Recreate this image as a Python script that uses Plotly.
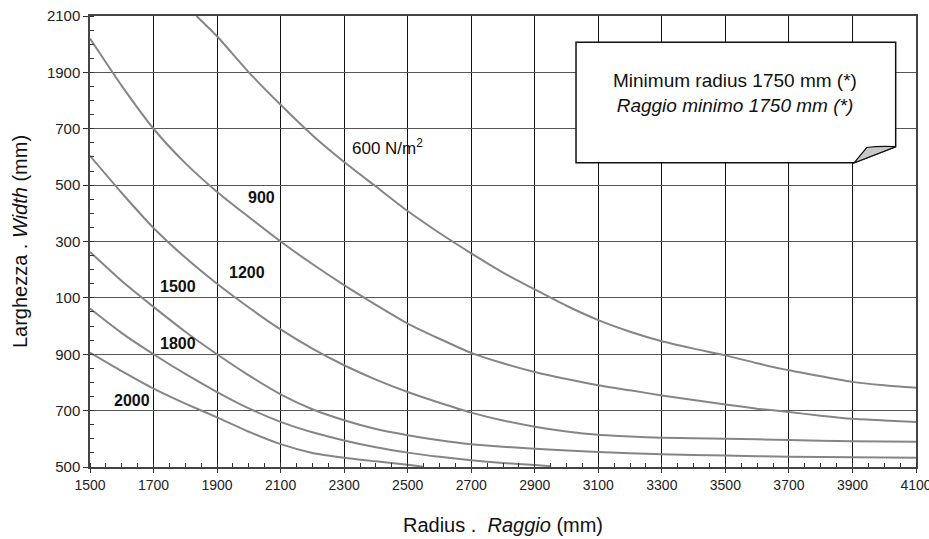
import plotly.graph_objects as go

# ---- data ----
x_600 = [1835, 1900, 2000, 2100, 2200, 2300, 2400, 2500, 2600, 2700, 2800, 2900, 3000,
         3100, 3200, 3300, 3400, 3500, 3600, 3700, 3800, 3900, 4000, 4100]
y_600 = [2100, 2028, 1900, 1785, 1677, 1582, 1495, 1408, 1330, 1258, 1190, 1130, 1072,
         1021, 980, 946, 920, 896, 868, 843, 822, 802, 790, 781]

x_900 = [1500, 1600, 1700, 1800, 1900, 2000, 2100, 2200, 2300, 2400, 2500, 2600, 2700,
         2800, 2900, 3000, 3100, 3200, 3300, 3400, 3500, 3600, 3700, 3800, 3900, 4000, 4100]
y_900 = [2020, 1852, 1700, 1578, 1476, 1387, 1300, 1220, 1145, 1075, 1009, 955, 905,
         868, 837, 812, 790, 772, 754, 738, 722, 707, 695, 682, 671, 665, 660]

x_1200 = [1500, 1600, 1700, 1800, 1900, 2000, 2100, 2200, 2300, 2400, 2500, 2600, 2700,
          2800, 2900, 3000, 3100, 3200, 3300, 3500, 3700, 3900, 4100]
y_1200 = [1604, 1472, 1348, 1243, 1150, 1066, 988, 920, 861, 810, 766, 728, 693,
          665, 643, 626, 614, 608, 604, 600, 596, 591, 590]

x_1500 = [1500, 1600, 1700, 1800, 1900, 2000, 2100, 2200, 2300, 2400, 2500, 2600, 2700,
          2800, 2900, 3100, 3300, 3500, 3700, 3900, 4100]
y_1500 = [1263, 1160, 1068, 980, 900, 825, 758, 705, 666, 635, 613, 595, 581,
          572, 565, 553, 545, 541, 536, 535, 533]

x_1800 = [1500, 1600, 1700, 1800, 1900, 2000, 2100, 2200, 2300, 2400, 2500, 2600, 2700,
          2800, 2900, 2950]
y_1800 = [1062, 975, 900, 830, 766, 708, 660, 623, 594, 570, 551, 536, 524,
          514, 507, 503]

x_2000 = [1500, 1600, 1700, 1800, 1900, 2000, 2100, 2200, 2300, 2400, 2500, 2550]
y_2000 = [906, 840, 778, 725, 676, 625, 581, 550, 533, 520, 508, 501]

series_names = ["600 N/m2", "900", "1200", "1500", "1800", "2000"]
series_x = [x_600, x_900, x_1200, x_1500, x_1800, x_2000]
series_y = [y_600, y_900, y_1200, y_1500, y_1800, y_2000]

label_texts = ["600 N/m<sup>2</sup>", "<b>900</b>", "<b>1200</b>", "<b>1500</b>", "<b>1800</b>", "<b>2000</b>"]
label_x = [2317, 1992, 1932, 1714, 1714, 1569]
label_y = [1634, 1456, 1190, 1141, 938, 736]

x_tickvals = [1500, 1700, 1900, 2100, 2300, 2500, 2700, 2900, 3100, 3300, 3500, 3700, 3900, 4100]
y_tickvals = [500, 700, 900, 1100, 1300, 1500, 1700, 1900, 2100]
y_ticktext = ["500", "700", "900", "100", "300", "500", "700", "1900", "2100"]

FONT = "Liberation Sans, Arial, sans-serif"

fig = go.Figure()
for name, xs, ys in zip(series_names, series_x, series_y):
    fig.add_trace(go.Scatter(x=xs, y=ys, mode="lines", name=name,
                             line=dict(color="#858585", width=2, shape="spline", smoothing=0.6),
                             showlegend=False, hoverinfo="skip"))

for t, lx, ly in zip(label_texts, label_x, label_y):
    fig.add_annotation(x=lx, y=ly, text=t, showarrow=False, xanchor="left", yanchor="middle",
                       font=dict(family=FONT, size=17 if "N/m" in t else 16, color="#111"))

# callout box with folded corner (paper coordinates)
fig.add_shape(type="path", xref="paper", yref="paper",
              path="M 0.5884,0.9417 L 0.9754,0.9417 L 0.9754,0.7102 L 0.9253,0.6747 L 0.5884,0.6747 Z",
              fillcolor="white", line=dict(color="#111", width=1.5), layer="above")
fig.add_shape(type="path", xref="paper", yref="paper",
              path="M 0.9253,0.6747 L 0.9403,0.7084 Q 0.955,0.712 0.9754,0.7102 Z",
              fillcolor="#c8c8c8", line=dict(color="#111", width=1.2), layer="above")
fig.add_annotation(xref="paper", yref="paper", x=0.7804, y=0.830,
                   text="Minimum radius 1750 mm (*)<br><i>Raggio minimo 1750 mm (*)</i>",
                   showarrow=False, xanchor="center", yanchor="middle", align="center",
                   font=dict(family=FONT, size=19, color="#111"))

fig.update_layout(
    template="none",
    width=929, height=539,
    margin=dict(l=90, r=13, t=16, b=72, pad=0),
    paper_bgcolor="white", plot_bgcolor="white",
    font=dict(family=FONT, color="#222"),
    xaxis=dict(range=[1500, 4100], tickmode="array", tickvals=x_tickvals,
               automargin=False, ticklabeloverflow="allow",
               showgrid=True, gridcolor="#111", gridwidth=1,
               showline=True, linecolor="#444", linewidth=1.5, mirror=True,
               ticks="outside", ticklen=4, tickcolor="#333",
               minor=dict(tickmode="linear", tick0=1500, dtick=50, ticks="inside", ticklen=4,
                          tickcolor="#333", showgrid=False),
               tickfont=dict(family=FONT, size=14, color="#222"),
               zeroline=False,
               title=dict(text="Radius .\u00a0\u00a0<i>Raggio</i> (mm)", standoff=26,
                          font=dict(family=FONT, size=20, color="#111"))),
    yaxis=dict(range=[500, 2100], tickmode="array", tickvals=y_tickvals, ticktext=y_ticktext,
               automargin=False,
               showgrid=True, gridcolor="#555", gridwidth=1,
               showline=True, linecolor="#444", linewidth=1.5, mirror=True,
               ticks="outside", ticklen=5, tickcolor="#333",
               minor=dict(tickmode="linear", tick0=500, dtick=50, ticks="inside", ticklen=4,
                          tickcolor="#333", showgrid=False),
               tickfont=dict(family=FONT, size=15, color="#222"),
               zeroline=False,
               title=dict(text="Larghezza .\u00a0<i>Width</i> (mm)", standoff=14,
                          font=dict(family=FONT, size=20, color="#111"))),
)

fig.write_html("out.html", config={"displayModeBar": False},
               post_script="document.body.style.margin='0';")
